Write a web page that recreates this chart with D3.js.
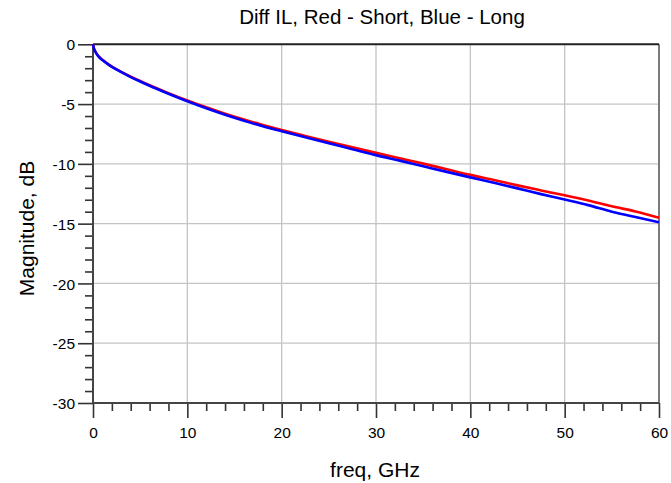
<!DOCTYPE html>
<html>
<head>
<meta charset="utf-8">
<script src="https://cdn.jsdelivr.net/npm/d3@7"></script>
<style>
  html, body { margin: 0; padding: 0; background: #fff; }
  svg { display: block; font-family: "Liberation Sans", Arial, sans-serif; }
</style>
</head>
<body>
<svg id="chart" width="671" height="483"></svg>
<script>
const freq = [0, 0.1, 0.25, 0.5, 1, 1.5, 2, 3, 4, 5, 6, 8, 10, 12, 14, 16, 18, 20, 22.5, 25, 27.5, 30, 32.5, 35, 37.5, 40, 42.5, 45, 47.5, 50, 52.5, 55, 57.5, 60];
const shortIL = [0, -0.35, -0.60, -0.92, -1.30, -1.60, -1.86, -2.30, -2.70, -3.07, -3.42, -4.08, -4.70, -5.27, -5.80, -6.29, -6.74, -7.16, -7.66, -8.15, -8.62, -9.08, -9.53, -9.98, -10.45, -10.92, -11.35, -11.80, -12.22, -12.63, -13.07, -13.55, -13.98, -14.50];
const longIL = [0, -0.36, -0.62, -0.94, -1.32, -1.62, -1.89, -2.33, -2.74, -3.11, -3.47, -4.14, -4.77, -5.35, -5.89, -6.39, -6.85, -7.27, -7.77, -8.27, -8.77, -9.27, -9.73, -10.20, -10.67, -11.13, -11.58, -12.05, -12.53, -12.98, -13.45, -14.00, -14.45, -14.88];
const xTicks = [0, 10, 20, 30, 40, 50, 60];
const yTicks = [0, -5, -10, -15, -20, -25, -30];
const titleText = "Diff IL, Red - Short, Blue - Long";
const xLabel = "freq, GHz";
const yLabel = "Magnitude, dB";

const svg = d3.select("#chart");
const L = 93, R = 659, T = 44.3, B = 403;
const x = d3.scaleLinear().domain([0, 60]).range([L, R]);
const y = d3.scaleLinear().domain([-30, 0]).range([B, T]);

// grid
const g = svg.append("g");
g.selectAll("line.gx").data(xTicks.slice(1, -1)).join("line")
  .attr("x1", d => x(d)).attr("x2", d => x(d)).attr("y1", T).attr("y2", B)
  .attr("stroke", "#c4c4c4").attr("stroke-width", 1.3);
g.selectAll("line.gy").data(yTicks.slice(1, -1)).join("line")
  .attr("x1", L).attr("x2", R).attr("y1", d => y(d)).attr("y2", d => y(d))
  .attr("stroke", "#c4c4c4").attr("stroke-width", 1.3);

// right and top border
svg.append("line").attr("x1", R).attr("x2", R).attr("y1", T).attr("y2", B)
  .attr("stroke", "#7a7a7a").attr("stroke-width", 2);
svg.append("line").attr("x1", L).attr("x2", R).attr("y1", T).attr("y2", T)
  .attr("stroke", "#222").attr("stroke-width", 2);

// minor ticks
const xMinor = d3.range(0, 61, 2).filter(v => v % 10 !== 0);
const yMinor = d3.range(-30, 1, 1).filter(v => v % 5 !== 0);
const axMinorX = svg.append("g").attr("transform", `translate(0,${B})`)
  .call(d3.axisBottom(x).tickValues(xMinor).tickSize(8).tickFormat(""));
const axMinorY = svg.append("g").attr("transform", `translate(${L},0)`)
  .call(d3.axisLeft(y).tickValues(yMinor).tickSize(8).tickFormat(""));

// major axes
const axX = svg.append("g").attr("transform", `translate(0,${B})`)
  .call(d3.axisBottom(x).tickValues(xTicks).tickSize(15).tickPadding(9).tickFormat(d3.format("d")));
const axY = svg.append("g").attr("transform", `translate(${L},0)`)
  .call(d3.axisLeft(y).tickValues(yTicks).tickSize(15).tickPadding(3).tickFormat(d => String(d)));

[axMinorX, axMinorY, axX, axY].forEach(a => {
  a.select(".domain").remove();
  a.selectAll(".tick line").attr("stroke", "#333").attr("stroke-width", 1.6);
});
[axX, axY].forEach(a => {
  a.selectAll(".tick text").attr("fill", "#000").style("font-size", "15.5px")
    .style("font-family", '"Liberation Sans", Arial, sans-serif');
});
axY.selectAll(".tick text").attr("dy", "0.36em");

// axis lines
svg.append("line").attr("x1", L).attr("x2", R).attr("y1", B).attr("y2", B)
  .attr("stroke", "#444").attr("stroke-width", 2);
svg.append("line").attr("x1", L).attr("x2", L).attr("y1", T).attr("y2", B)
  .attr("stroke", "#444").attr("stroke-width", 2);

// data lines
const line = d3.line().x(d => x(d[0])).y(d => y(d[1])).curve(d3.curveMonotoneX);
svg.append("path").datum(freq.map((f, i) => [f, shortIL[i]]))
  .attr("d", line).attr("fill", "none").attr("stroke", "#ff0000").attr("stroke-width", 2.6);
svg.append("path").datum(freq.map((f, i) => [f, longIL[i]]))
  .attr("d", line).attr("fill", "none").attr("stroke", "#0000ff").attr("stroke-width", 2.6);

// title & labels
svg.append("text").attr("x", 382).attr("y", 23.5).attr("text-anchor", "middle")
  .style("font-size", "20.5px").text(titleText);
svg.append("text").attr("x", 375).attr("y", 477).attr("text-anchor", "middle")
  .style("font-size", "21px").text(xLabel);
svg.append("text").attr("transform", "translate(34,228.5) rotate(-90)").attr("text-anchor", "middle")
  .style("font-size", "21px").text(yLabel);
</script>
</body>
</html>
